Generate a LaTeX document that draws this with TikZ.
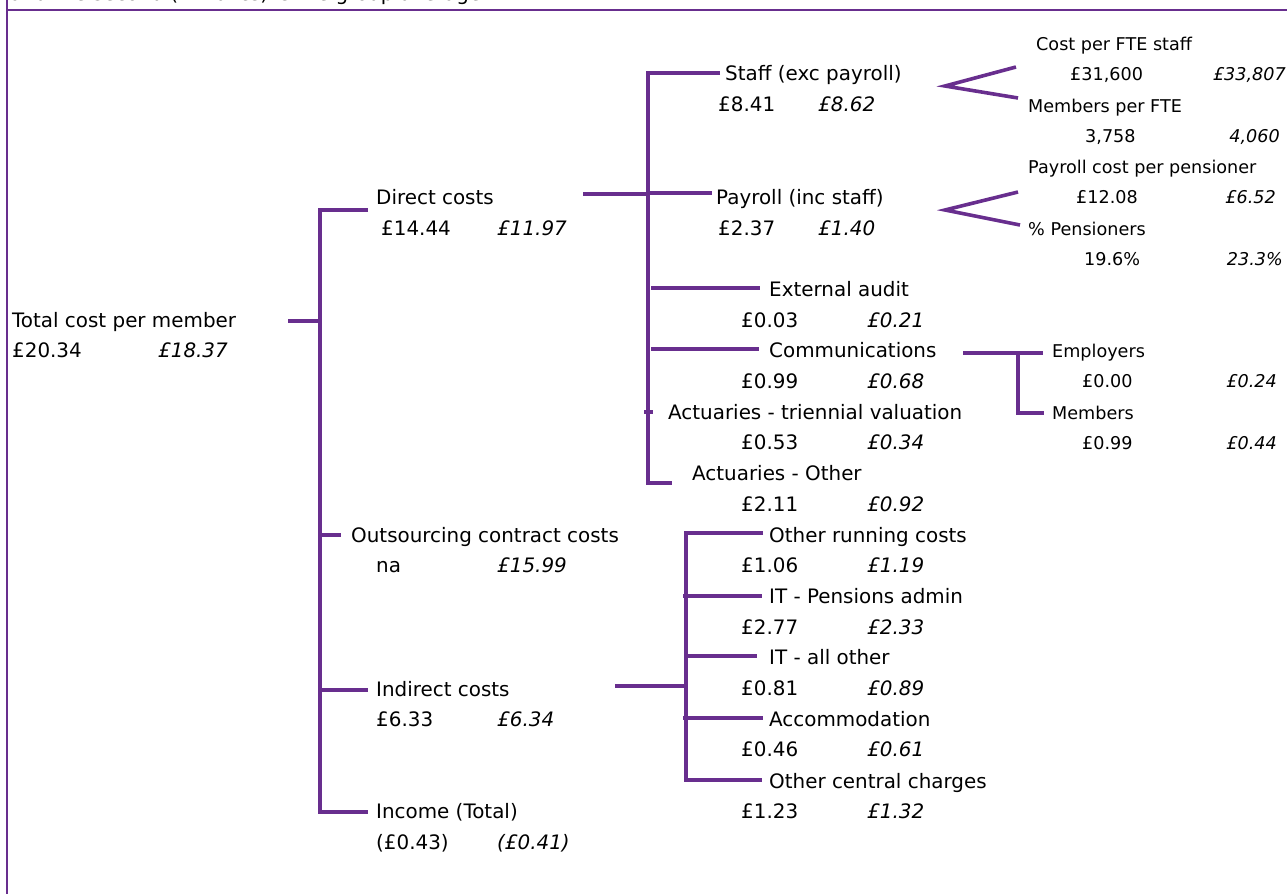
\documentclass[tikz,border=0pt]{standalone}
\usepackage{fontspec}
\setmainfont{DejaVu Sans}
\definecolor{pl}{RGB}{104,46,142}
\tikzset{
  mt/.style={font=\fontsize{19.9}{22}\selectfont, inner sep=0pt, anchor=base west},
  mi/.style={font=\fontsize{19.9}{22}\selectfont\itshape, inner sep=0pt, anchor=base west},
  st/.style={font=\fontsize{17.6}{20}\selectfont, inner sep=0pt, anchor=base west},
  si/.style={font=\fontsize{17.6}{20}\selectfont\itshape, inner sep=0pt, anchor=base east},
  sr/.style={font=\fontsize{17.6}{20}\selectfont, inner sep=0pt, anchor=base west},
  ln/.style={draw=pl, line width=3.6pt},
  frame/.style={draw=pl, line width=2.8pt}
}
\begin{document}
\begin{tikzpicture}[x=1pt,y=-1pt]
\useasboundingbox (0,0) rectangle (1287,894);
% frame
\coordinate (fa) at (7,0); \coordinate (fb) at (7,894);
\coordinate (fc) at (7,10); \coordinate (fd) at (1287,10);
\draw[frame] (fa) -- (fb);
\draw[frame] (fc) -- (fd);
\begin{scope}
\clip (9,0) rectangle (1287,8.5);
\node[mt] (note) at (10,0.5) {and the second (in italics) is the group average};
\end{scope}

% level 0
\node[mt] (total) at (12,327) {Total cost per member};
\node[mt] (totA) at (12,357) {£20.34};
\node[mi] (totB) at (158,357) {£18.37};

% level 1
\node[mt] (direct) at (376,204) {Direct costs};
\node[mt] (dA) at (381,235) {£14.44};
\node[mi] (dB) at (497,235) {£11.97};
\node[mt] (outs) at (351,542) {Outsourcing contract costs};
\node[mt] (oA) at (376,572) {na};
\node[mi] (oB) at (497,572) {£15.99};
\node[mt] (indir) at (376,696) {Indirect costs};
\node[mt] (iA) at (376,726) {£6.33};
\node[mi] (iB) at (497,726) {£6.34};
\node[mt] (income) at (376,818) {Income (Total)};
\node[mt] (inA) at (376,849) {(£0.43)};
\node[mi] (inB) at (497,849) {(£0.41)};

% direct subtree
\node[mt] (staff) at (725,80) {Staff (exc payroll)};
\node[mt] (sA) at (718,111) {£8.41};
\node[mi] (sB) at (818,111) {£8.62};
\node[mt] (payroll) at (716,204) {Payroll (inc staff)};
\node[mt] (pA) at (718,235) {£2.37};
\node[mi] (pB) at (818,235) {£1.40};
\node[mt] (extaud) at (769,296) {External audit};
\node[mt] (eA) at (741,327) {£0.03};
\node[mi] (eB) at (867,327) {£0.21};
\node[mt] (comm) at (769,357) {Communications};
\node[mt] (cA) at (741,388) {£0.99};
\node[mi] (cB) at (867,388) {£0.68};
\node[mt] (actT) at (668,419) {Actuaries - triennial valuation};
\node[mt] (atA) at (741,449) {£0.53};
\node[mi] (atB) at (867,449) {£0.34};
\node[mt] (actO) at (692,480) {Actuaries - Other};
\node[mt] (aoA) at (741,511) {£2.11};
\node[mi] (aoB) at (867,511) {£0.92};

% indirect subtree
\node[mt] (orc) at (769,542) {Other running costs};
\node[mt] (orA) at (741,572) {£1.06};
\node[mi] (orB) at (867,572) {£1.19};
\node[mt] (itpa) at (769,603) {IT - Pensions admin};
\node[mt] (ipA) at (741,634) {£2.77};
\node[mi] (ipB) at (867,634) {£2.33};
\node[mt] (itall) at (769,664) {IT - all other};
\node[mt] (iaA) at (741,695) {£0.81};
\node[mi] (iaB) at (867,695) {£0.89};
\node[mt] (accom) at (769,726) {Accommodation};
\node[mt] (acA) at (741,756) {£0.46};
\node[mi] (acB) at (867,756) {£0.61};
\node[mt] (occ) at (769,788) {Other central charges};
\node[mt] (ocA) at (741,818) {£1.23};
\node[mi] (ocB) at (867,818) {£1.32};

% right-hand small text
\node[st] (costfte) at (1036,50) {Cost per FTE staff};
\node[sr] (cfA) at (1070,80) {£31,600};
\node[si] (cfB) at (1286,80) {£33,807};
\node[st] (memfte) at (1028,112) {Members per FTE};
\node[sr] (mfA) at (1085,142) {3,758};
\node[si] (mfB) at (1280,142) {4,060};
\node[st] (paycost) at (1028,173) {Payroll cost per pensioner};
\node[sr] (pcA) at (1076,203) {£12.08};
\node[si] (pcB) at (1276,203) {£6.52};
\node[st] (pens) at (1028,235) {\% Pensioners};
\node[sr] (peA) at (1084,265) {19.6\%};
\node[si] (peB) at (1283,265) {23.3\%};
\node[st] (employers) at (1052,357) {Employers};
\node[sr] (emA) at (1082,387) {£0.00};
\node[si] (emB) at (1277,387) {£0.24};
\node[st] (members) at (1052,419) {Members};
\node[sr] (meA) at (1082,449) {£0.99};
\node[si] (meB) at (1277,449) {£0.44};

% connector points, level 0 -> 1
\coordinate (t0) at (288,321); \coordinate (t1) at (320,321);
\coordinate (v1a) at (320,210); \coordinate (v1b) at (320,812);
\coordinate (dE) at (368,210);
\coordinate (oS) at (320,535); \coordinate (oE) at (341,535);
\coordinate (iS) at (320,690); \coordinate (iE) at (368,690);
\coordinate (inE) at (368,812);
\draw[ln] (t0) -- (t1);
\draw[ln] (dE) -- (v1a) -- (v1b) -- (inE);
\draw[ln] (oS) -- (oE);
\draw[ln] (iS) -- (iE);

% direct subtree connectors
\coordinate (d0) at (583,194); \coordinate (d1) at (648,194);
\coordinate (v2a) at (648,73); \coordinate (v2b) at (648,483);
\coordinate (stE) at (720,73);
\coordinate (pyS) at (648,193); \coordinate (pyE) at (712,193);
\coordinate (eaS) at (651,288); \coordinate (eaE) at (760,288);
\coordinate (cmS) at (651,349); \coordinate (cmE) at (759,349);
\coordinate (atS) at (644,412); \coordinate (atE) at (653,412);
\coordinate (aoE) at (672,483);
\draw[ln] (d0) -- (d1);
\draw[ln] (stE) -- (v2a) -- (v2b) -- (aoE);
\draw[ln] (pyS) -- (pyE);
\draw[ln] (eaS) -- (eaE);
\draw[ln] (cmS) -- (cmE);
\draw[ln] (atS) -- (atE);

% staff / payroll wedges
\coordinate (w1) at (945,86); \coordinate (w1a) at (1016,67); \coordinate (w1b) at (1018,98);
\coordinate (w2) at (945,210); \coordinate (w2a) at (1018,192); \coordinate (w2b) at (1020,225);
\draw[ln, line join=miter] (w1a) -- (w1) -- (w1b);
\draw[ln, line join=miter] (w2a) -- (w2) -- (w2b);

% communications split
\coordinate (c0) at (963,353); \coordinate (c1) at (1043,353);
\coordinate (cv) at (1018,353); \coordinate (cv2) at (1018,413); \coordinate (cmb) at (1044,413);
\draw[ln] (c0) -- (c1);
\draw[ln] (cv) -- (cv2) -- (cmb);

% indirect subtree connectors
\coordinate (i0) at (615,686); \coordinate (i1) at (686,686);
\coordinate (v3a) at (686,533); \coordinate (v3b) at (686,780);
\coordinate (orE) at (763,533);
\coordinate (ipS) at (683,596); \coordinate (ipE) at (762,596);
\coordinate (iaS) at (686,656); \coordinate (iaE) at (757,656);
\coordinate (acS) at (683,718); \coordinate (acE) at (763,718);
\coordinate (ocE) at (762,780);
\draw[ln] (i0) -- (i1);
\draw[ln] (orE) -- (v3a) -- (v3b) -- (ocE);
\draw[ln] (ipS) -- (ipE);
\draw[ln] (iaS) -- (iaE);
\draw[ln] (acS) -- (acE);
\end{tikzpicture}
\end{document}
